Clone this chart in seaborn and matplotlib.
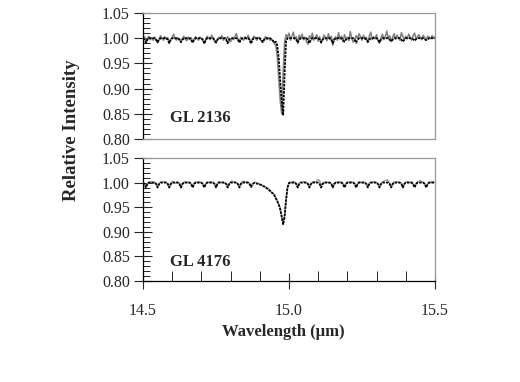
import numpy as np
import pandas as pd
import matplotlib
matplotlib.use("Agg")
import matplotlib.pyplot as plt
import seaborn as sns
from matplotlib.ticker import MultipleLocator, FormatStrFormatter

wl_start, wl_step, n_pts = 14.5, 0.005, 201

top_data = [
    0.998, 1.003, 0.994, 0.999, 1.004, 0.997, 1.001, 0.996, 1.002, 0.995,
    0.991, 0.998, 1.005, 0.999, 0.996, 1.003, 0.998, 1.001, 0.993, 0.997,
    1.002, 1.008, 0.999, 0.996, 1.001, 0.997, 0.994, 0.999, 1.004, 0.998,
    0.995, 1.002, 0.997, 1.001, 0.992, 0.998, 1.003, 0.999, 0.996, 1.002,
    0.999, 0.995, 0.991, 0.998, 1.004, 1.000, 0.997, 1.006, 0.999, 0.994,
    0.990, 0.997, 1.002, 0.999, 1.005, 0.996, 1.001, 0.998, 1.003, 0.995,
    0.993, 1.000, 0.997, 1.004, 1.009, 0.998, 0.994, 1.002, 0.999, 0.996,
    1.003, 0.998, 1.006, 0.997, 0.992, 0.999, 1.004, 1.001, 0.996, 1.002,
    0.998, 0.995, 0.993, 0.999, 1.003, 0.997, 1.001, 0.996, 0.998, 0.994,
    0.989, 0.985, 0.962, 0.918, 0.876, 0.850, 0.932, 0.993, 1.007, 1.002,
    1.010, 0.996, 1.004, 1.012, 0.998, 1.003, 0.991, 1.006, 0.999, 1.008,
    0.997, 1.002, 0.993, 0.988, 1.005, 0.999, 1.010, 0.996, 1.001, 1.007,
    0.994, 1.003, 0.990, 0.998, 1.006, 1.001, 0.995, 1.009, 0.997, 1.004,
    0.986, 0.999, 1.003, 0.996, 1.011, 0.998, 1.004, 0.993, 1.007, 0.999,
    1.002, 0.995, 1.013, 1.000, 0.992, 0.997, 1.005, 0.999, 1.009, 1.003,
    0.996, 1.006, 0.998, 1.002, 0.991, 1.004, 1.012, 0.997, 1.003, 0.999,
    1.007, 0.995, 0.990, 1.001, 1.008, 0.997, 1.004, 1.014, 0.999, 1.005,
    0.993, 1.002, 1.009, 0.998, 1.006, 1.001, 0.996, 1.011, 1.003, 0.998,
    1.004, 0.999, 1.008, 1.002, 0.996, 1.005, 1.010, 0.999, 1.003, 1.007,
    1.001, 0.997, 1.006, 1.000, 0.998, 1.004, 1.002, 0.999, 1.005, 1.001,
    1.002,
]

top_model = [
    1.000, 0.997, 0.991, 0.997, 1.000, 1.000, 1.000, 1.000, 1.000, 0.997,
    0.992, 0.997, 1.000, 1.000, 1.000, 1.000, 1.000, 0.997, 0.990, 0.997,
    1.000, 1.000, 1.000, 1.000, 1.000, 0.997, 0.992, 0.997, 1.000, 1.000,
    1.000, 1.000, 1.000, 0.997, 0.991, 0.997, 1.000, 1.000, 1.000, 1.000,
    1.000, 0.997, 0.989, 0.997, 1.000, 1.000, 1.000, 1.000, 1.000, 0.997,
    0.992, 0.997, 1.000, 1.000, 1.000, 1.000, 1.000, 0.997, 0.990, 0.997,
    1.000, 1.000, 1.000, 1.000, 1.000, 0.997, 0.991, 0.997, 1.000, 1.000,
    1.000, 1.000, 1.000, 0.997, 0.989, 0.997, 1.000, 1.000, 1.000, 1.000,
    1.000, 0.997, 0.992, 0.997, 1.000, 1.000, 1.000, 1.000, 0.998, 0.995,
    0.991, 0.993, 0.985, 0.960, 0.915, 0.875, 0.847, 0.930, 0.995, 1.000,
    1.000, 1.000, 1.000, 1.000, 1.000, 0.997, 0.991, 0.997, 1.000, 1.000,
    1.000, 1.000, 1.000, 0.997, 0.990, 0.997, 1.000, 1.000, 1.000, 1.000,
    1.000, 0.997, 0.992, 0.997, 1.000, 1.000, 1.000, 1.000, 1.000, 0.997,
    0.990, 0.997, 1.000, 1.000, 1.000, 1.000, 1.000, 0.997, 0.993, 0.997,
    1.000, 1.000, 1.000, 1.000, 1.000, 0.997, 0.991, 0.997, 1.000, 1.000,
    1.000, 1.000, 1.000, 0.997, 0.993, 0.997, 1.000, 1.000, 1.000, 1.000,
    1.000, 0.997, 0.992, 0.997, 1.000, 1.000, 1.000, 1.000, 1.000, 0.997,
    0.994, 0.997, 1.000, 1.000, 1.000, 1.000, 1.000, 0.997, 0.993, 0.997,
    1.000, 1.000, 1.000, 1.000, 1.000, 0.998, 0.995, 0.998, 1.000, 1.000,
    1.000, 1.000, 1.000, 0.998, 0.996, 0.998, 1.000, 1.000, 1.000, 1.000,
    1.000,
]

bottom_data = [
    1.001, 0.998, 0.992, 0.998, 1.001, 1.000, 1.002, 0.999, 1.001, 0.998,
    0.991, 0.998, 1.001, 1.000, 1.002, 1.001, 0.999, 0.998, 0.991, 0.998,
    1.002, 1.001, 0.999, 1.001, 1.000, 0.998, 0.991, 0.998, 1.001, 1.002,
    1.000, 1.001, 0.999, 0.998, 0.991, 0.998, 1.001, 1.000, 1.002, 1.001,
    0.999, 0.998, 0.991, 0.998, 1.001, 1.000, 1.002, 1.001, 0.999, 0.998,
    0.991, 0.998, 1.002, 1.001, 1.000, 1.001, 0.999, 0.998, 0.991, 0.998,
    1.001, 1.003, 1.002, 1.001, 1.000, 0.998, 0.991, 0.998, 1.002, 1.003,
    1.001, 1.002, 1.000, 0.998, 0.992, 0.998, 1.000, 1.001, 0.999, 0.998,
    0.997, 0.996, 0.994, 0.993, 0.991, 0.989, 0.987, 0.984, 0.981, 0.978,
    0.975, 0.969, 0.963, 0.956, 0.947, 0.932, 0.918, 0.934, 0.966, 0.991,
    1.000, 1.001, 1.000, 1.002, 1.001, 0.998, 0.991, 0.998, 1.001, 1.000,
    1.002, 1.001, 1.000, 0.998, 0.991, 0.998, 1.001, 1.002, 1.001, 1.003,
    1.006, 1.004, 0.993, 0.998, 1.001, 1.000, 1.001, 1.000, 0.999, 0.998,
    0.991, 0.998, 1.001, 1.000, 1.002, 1.001, 1.000, 0.998, 0.991, 0.998,
    1.001, 1.000, 1.002, 1.001, 1.000, 0.998, 0.991, 0.998, 1.002, 1.001,
    1.000, 1.001, 1.000, 0.998, 0.992, 0.998, 1.001, 1.000, 1.002, 1.001,
    1.000, 0.998, 0.991, 0.998, 1.001, 1.003, 1.004, 1.006, 1.003, 0.998,
    0.991, 0.998, 1.001, 1.000, 1.002, 1.001, 1.000, 0.998, 0.991, 0.998,
    1.001, 1.002, 1.001, 1.000, 1.001, 0.998, 0.992, 0.998, 1.001, 1.003,
    1.004, 1.002, 1.000, 0.998, 0.991, 0.998, 1.001, 1.000, 1.002, 1.001,
    1.000,
]

bottom_model = [
    1.000, 0.997, 0.990, 0.997, 1.000, 1.000, 1.000, 1.000, 1.000, 0.997,
    0.990, 0.997, 1.000, 1.000, 1.000, 1.000, 1.000, 0.997, 0.990, 0.997,
    1.000, 1.000, 1.000, 1.000, 1.000, 0.997, 0.990, 0.997, 1.000, 1.000,
    1.000, 1.000, 1.000, 0.997, 0.990, 0.997, 1.000, 1.000, 1.000, 1.000,
    1.000, 0.997, 0.990, 0.997, 1.000, 1.000, 1.000, 1.000, 1.000, 0.997,
    0.990, 0.997, 1.000, 1.000, 1.000, 1.000, 1.000, 0.997, 0.990, 0.997,
    1.000, 1.000, 1.000, 1.000, 1.000, 0.997, 0.990, 0.997, 1.000, 1.000,
    1.000, 1.000, 1.000, 0.997, 0.991, 0.997, 0.999, 0.999, 0.998, 0.997,
    0.996, 0.995, 0.993, 0.992, 0.990, 0.988, 0.986, 0.983, 0.980, 0.978,
    0.974, 0.968, 0.962, 0.955, 0.946, 0.930, 0.915, 0.930, 0.965, 0.990,
    0.999, 1.000, 1.000, 1.000, 1.000, 0.997, 0.990, 0.997, 1.000, 1.000,
    1.000, 1.000, 1.000, 0.997, 0.990, 0.997, 1.000, 1.000, 1.000, 1.000,
    1.000, 0.997, 0.990, 0.997, 1.000, 1.000, 1.000, 1.000, 1.000, 0.997,
    0.990, 0.997, 1.000, 1.000, 1.000, 1.000, 1.000, 0.997, 0.990, 0.997,
    1.000, 1.000, 1.000, 1.000, 1.000, 0.997, 0.990, 0.997, 1.000, 1.000,
    1.000, 1.000, 1.000, 0.997, 0.990, 0.997, 1.000, 1.000, 1.000, 1.000,
    1.000, 0.997, 0.990, 0.997, 1.000, 1.000, 1.000, 1.000, 1.000, 0.997,
    0.990, 0.997, 1.000, 1.000, 1.000, 1.000, 1.000, 0.997, 0.990, 0.997,
    1.000, 1.000, 1.000, 1.000, 1.000, 0.997, 0.990, 0.997, 1.000, 1.000,
    1.000, 1.000, 1.000, 0.997, 0.990, 0.997, 1.000, 1.000, 1.000, 1.000,
    1.000,
]

star_labels = ["GL 2136", "GL 4176"]
wavelength = wl_start + wl_step * np.arange(n_pts)

sns.set_style("ticks")
plt.rcParams["font.family"] = ["Liberation Serif", "DejaVu Serif"]

fig = plt.figure(figsize=(5.2, 3.82), dpi=100)
ax_top = fig.add_axes([0.275, 0.636, 0.5615, 0.330])
ax_bot = fig.add_axes([0.275, 0.2644, 0.5615, 0.322])

frame_grey = "#9a9a9a"

panels = [
    (ax_top, top_data, top_model, "#7f7f7f", star_labels[0], 0.167),
    (ax_bot, bottom_data, bottom_model, "#a0a0a0", star_labels[1], 0.154),
]

for ax, obs, mod, obs_col, lab, lab_y in panels:
    df = pd.DataFrame({"wl": wavelength, "obs": obs, "mod": mod})
    sns.lineplot(data=df, x="wl", y="obs", ax=ax, color=obs_col, lw=1.1, zorder=2)
    sns.lineplot(data=df, x="wl", y="mod", ax=ax, color="black", lw=1.3,
                 linestyle=(0, (1.4, 0.6)), zorder=3)
    ax.set_xlim(14.5, 15.5)
    ax.set_ylim(0.80, 1.05)
    ax.set_xlabel("")
    ax.set_ylabel("")
    ax.yaxis.set_major_locator(MultipleLocator(0.05))
    ax.yaxis.set_minor_locator(MultipleLocator(0.01))
    ax.yaxis.set_major_formatter(FormatStrFormatter("%.2f"))
    ax.xaxis.set_major_locator(MultipleLocator(0.5))
    ax.xaxis.set_minor_locator(MultipleLocator(0.1))
    ax.xaxis.set_major_formatter(FormatStrFormatter("%.1f"))
    ax.tick_params(axis="y", which="major", direction="inout", length=13,
                   width=0.8, pad=3, labelsize=11.5)
    ax.tick_params(axis="y", which="minor", direction="in", length=5, width=0.7)
    ax.tick_params(axis="x", which="major", direction="inout", length=12,
                   width=0.8, pad=10, labelsize=11.5)
    ax.tick_params(axis="x", which="minor", direction="in", length=7, width=0.7)
    ax.spines["left"].set_color("black")
    ax.spines["top"].set_color(frame_grey)
    ax.spines["right"].set_color(frame_grey)
    ax.spines["bottom"].set_color("black")
    for s in ax.spines.values():
        s.set_linewidth(0.9)
    ax.text(0.093, lab_y, lab, transform=ax.transAxes, fontsize=12,
            fontweight="bold", va="center", ha="left")

# top panel: plain grey bottom edge, no x ticks
ax_top.spines["bottom"].set_color(frame_grey)
ax_top.tick_params(axis="x", which="both", bottom=False, labelbottom=False)

fig.text(0.137, 0.66, "Relative Intensity", rotation=90, fontsize=13.5,
         fontweight="bold", ha="center", va="center")
fig.text(0.544, 0.131, "Wavelength (\u03bcm)", fontsize=12,
         fontweight="bold", ha="center", va="center")

fig.savefig("out.png", dpi=100)
